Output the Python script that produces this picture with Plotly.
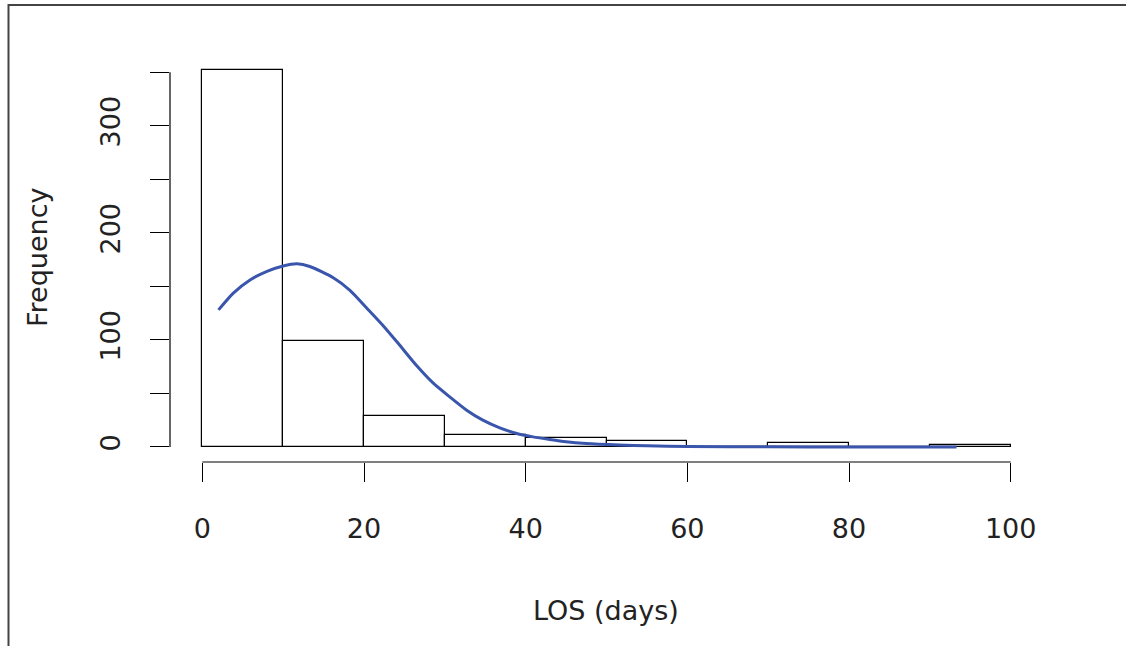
import plotly.graph_objects as go

# Histogram data (LOS in days, bins of width 10)
bin_centers = [5, 15, 25, 35, 45, 55, 65, 75, 85, 95]
counts = [352, 99, 29, 11, 8, 6, 0, 4, 0, 2]

# Overlaid fitted curve
curve_x = [2.0, 3.8, 5.9, 8.0, 10.0, 11.7, 13.3, 16.2, 18.3, 20.3, 22.4, 24.2, 26.5,
           28.6, 30.6, 32.7, 34.7, 36.8, 38.9, 40.9, 43.0, 45.0, 47.5, 51.6, 55.0,
           60.0, 70.0, 80.0, 93.3]
curve_y = [128, 143.5, 156, 164, 169, 171, 168.5, 158, 146, 130, 113, 97, 76,
           59.3, 46.8, 34.3, 25, 17.8, 12.5, 9.4, 6.9, 4.8, 3.2, 1.8, 1.0,
           0.5, 0.1, 0.0, 0.0]

x_ticks = [0, 20, 40, 60, 80, 100]
y_ticks = [0, 50, 100, 150, 200, 250, 300, 350]
y_ticktext = ["0", "", "100", "", "200", "", "300", ""]

W, H = 1126, 646
L, R, T, B = 170, 83, 55, 184
pw = W - L - R
ph = H - T - B

def px(xpix):
    return (xpix - L) / pw

def py(ypix):
    return (H - B - ypix) / ph

fig = go.Figure()
fig.add_trace(go.Bar(
    x=bin_centers, y=counts, width=10,
    marker=dict(color="white", line=dict(color="black", width=1.2)),
    showlegend=False, hoverinfo="skip"))
fig.add_trace(go.Scatter(
    x=curve_x, y=curve_y, mode="lines",
    line=dict(color="#3A56AC", width=3, shape="spline", smoothing=0.6),
    showlegend=False))

font = dict(family="DejaVu Sans, Liberation Sans, sans-serif", size=27, color="#222222")

fig.update_layout(
    width=W, height=H,
    margin=dict(l=L, r=R, t=T, b=B),
    paper_bgcolor="white", plot_bgcolor="white",
    bargap=0,
    font=font,
    xaxis=dict(range=[-4, 104], tickvals=x_ticks, ticks="outside", ticklen=19,
               tickwidth=1.2, tickcolor="black", showgrid=False, zeroline=False,
               showline=False, tickfont=font, ticklabelstandoff=24),
    yaxis=dict(range=[-14.08, 366.08], tickvals=y_ticks, ticktext=y_ticktext,
               ticks="outside", ticklen=19, tickwidth=1.2, tickcolor="black",
               showgrid=False, zeroline=False, showline=False, tickangle=-90,
               tickfont=font, ticklabelstandoff=19),
    shapes=[
        dict(type="line", xref="x", yref="paper", x0=0, x1=100, y0=0, y1=0,
             line=dict(color="black", width=1.2)),
        dict(type="line", xref="paper", yref="y", x0=0, x1=0, y0=0, y1=350,
             line=dict(color="black", width=1.2)),
        # outer frame (top and left edges; right/bottom fall outside the page)
        dict(type="rect", xref="paper", yref="paper", x0=px(8.5), x1=px(1140),
             y0=py(660), y1=py(5), line=dict(color="#444444", width=2),
             fillcolor="rgba(0,0,0,0)", layer="below"),
    ],
    annotations=[
        dict(text="LOS (days)", xref="paper", yref="paper", x=px(606), y=py(610),
             xanchor="center", yanchor="middle", showarrow=False, font=font),
        dict(text="Frequency", xref="paper", yref="paper", x=px(37), y=py(257),
             xanchor="center", yanchor="middle", showarrow=False, font=font,
             textangle=-90),
    ],
)

fig.write_html("out.html", config={"displayModeBar": False})
